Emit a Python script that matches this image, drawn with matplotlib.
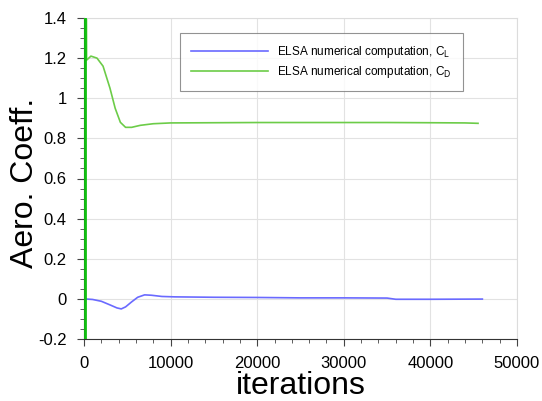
import matplotlib
matplotlib.use("Agg")
import matplotlib.pyplot as plt
from matplotlib.ticker import MultipleLocator

plt.rcParams["font.family"] = ["Liberation Sans", "DejaVu Sans"]

BLUE = "#6a6aff"
GREEN = "#6ccc48"
SPIKE = "#10c010"

# Iterations and coefficients
cd_iter = [150, 150, 300, 800, 1500, 2200, 3000, 3600, 4200, 4800, 5500, 6500, 8000,
           10000, 15000, 20000, 25000, 30000, 35000, 40000, 44000, 45500]
cd_vals = [-1.0, 3.0, 1.19, 1.21, 1.20, 1.16, 1.05, 0.95, 0.88, 0.855, 0.855, 0.865, 0.873,
           0.877, 0.878, 0.879, 0.879, 0.879, 0.879, 0.878, 0.877, 0.875]

cl_iter = [0, 1000, 2000, 3000, 3800, 4300, 4800, 5500, 6200, 7000, 7800, 9000,
           10500, 15000, 20000, 25000, 30000, 35000, 36000, 40000, 46000]
cl_vals = [0.0, -0.003, -0.012, -0.03, -0.045, -0.05, -0.04, -0.015, 0.008, 0.02, 0.018, 0.012,
           0.01, 0.008, 0.007, 0.005, 0.005, 0.004, -0.002, -0.002, -0.001]

fig = plt.figure(figsize=(5.42, 4.01), dpi=100)
ax = fig.add_axes([84 / 542, 1 - 339 / 401, 433 / 542, 321 / 401])

ax.plot(cl_iter, cl_vals, color=BLUE, lw=1.2, label="ELSA numerical computation, C$_\\mathrm{L}$")
ax.plot(cd_iter[1:], cd_vals[1:], color=GREEN, lw=1.2, label="ELSA numerical computation, C$_\\mathrm{D}$")
ax.plot(cd_iter[:2], cd_vals[:2], color=SPIKE, lw=2.0, zorder=3)

ax.set_xlim(0, 50000)
ax.set_ylim(-0.2, 1.4)
ax.xaxis.set_major_locator(MultipleLocator(10000))
ax.xaxis.set_minor_locator(MultipleLocator(2000))
ax.yaxis.set_major_locator(MultipleLocator(0.2))
ax.yaxis.set_minor_locator(MultipleLocator(0.05))
ax.set_yticks([-0.2, 0, 0.2, 0.4, 0.6, 0.8, 1, 1.2, 1.4])
ax.set_yticklabels(["-0.2", "0", "0.2", "0.4", "0.6", "0.8", "1", "1.2", "1.4"])
ax.grid(True, which="major", color="#e2e2e2", lw=0.8)
ax.tick_params(which="major", length=5, labelsize=12, color="#444444", pad=7.5)
ax.tick_params(which="minor", length=3, color="#444444")

for side in ("top", "right"):
    ax.spines[side].set_color("#dcdcdc")
for side in ("left", "bottom"):
    ax.spines[side].set_color("#333333")

ax.set_xlabel("iterations", fontsize=23, labelpad=0)
ax.set_ylabel("Aero. Coeff.", fontsize=23)
ax.yaxis.set_label_coords(-0.1015, 0.485)

leg = ax.legend(loc="upper left", bbox_to_anchor=(96 / 433, 1 - 15 / 321), fontsize=8.5,
                frameon=True, fancybox=False, edgecolor="#777777", borderpad=0.95,
                borderaxespad=0, handlelength=6.5, handletextpad=0.8, labelspacing=0.3)
leg.get_frame().set_linewidth(0.8)

fig.savefig("out.png", dpi=100)
